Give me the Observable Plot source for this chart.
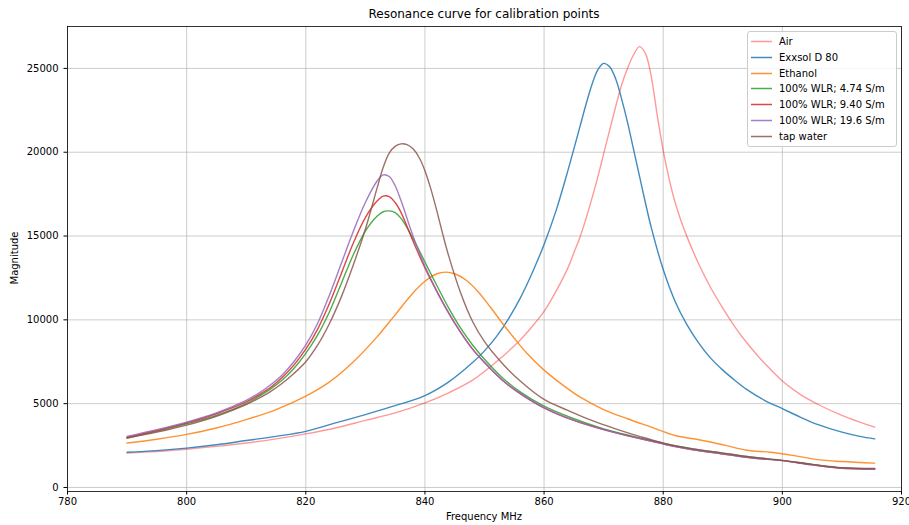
<!DOCTYPE html>
<html><head><meta charset="utf-8">
<script src="https://cdn.jsdelivr.net/npm/d3@7"></script>
<script src="https://cdn.jsdelivr.net/npm/@observablehq/plot@0.6"></script>
<style>
body{margin:0;background:#fff;font-family:"DejaVu Sans",sans-serif;}
#wrap{position:relative;width:909px;height:525px;overflow:hidden;}
.t{position:absolute;color:#000;white-space:nowrap;font-size:10px;line-height:1;}
#legend{position:absolute;left:747px;top:31px;width:148px;height:114px;border:1px solid #cccccc;border-radius:3px;background:rgba(255,255,255,0.8);}
.row{position:absolute;left:0;height:14px;width:146px;}
.row svg{position:absolute;left:3px;top:0;}
.lb{position:absolute;left:31px;top:1px;font-size:10px;white-space:nowrap;color:#000;line-height:1.1;}
</style></head><body><div id="wrap"></div>
<script>
// ---- data ----
const seriesNames = ["Air","Exxsol D 80","Ethanol","100% WLR; 4.74 S/m","100% WLR; 9.40 S/m","100% WLR; 19.6 S/m","tap water"];
const seriesColors = ["#ff0000","#1f77b4","#ff7f0e","#2ca02c","#d62728","#9467bd","#8c564b"];
const seriesOpacity = [0.4,0.85,0.85,0.85,0.85,0.85,0.85];
const xTicks = [780,800,820,840,860,880,900,920];
const yTicks = [0,5000,10000,15000,20000,25000];

const airFreq = [790,795,800,805,810,815,820,825,830,835,840,844,848,852,856,858,860,862,864,865,866,867,868,869,870,871,872,873,874,875,876,877,878,879,880,881,882,883,884,886,888,890,892,894,896,898,900,903,906,910,913,915.5];
const airMag  = [2050,2150,2280,2450,2650,2900,3200,3550,4000,4450,5050,5650,6400,7500,8800,9600,10500,11700,13100,14000,14900,16000,17200,18500,19900,21300,22700,24000,25000,25800,26300,25900,24500,22200,20100,18400,17000,15900,14950,13300,11900,10700,9600,8650,7800,7050,6350,5550,4950,4300,3900,3600];

const exxFreq = [790,795,800,805,810,815,820,825,830,835,840,844,848,850,852,854,856,858,860,862,864,866,867,868,869,870,871,872,873,874,875,876,877,878,880,882,884,886,888,890,892,894,897,900,903,906,910,913,915.5];
const exxMag  = [2100,2200,2350,2550,2800,3050,3350,3850,4350,4880,5480,6300,7450,8150,9000,10050,11300,12800,14500,16500,18900,21500,22800,24000,24900,25300,25100,24400,23200,21800,20200,18600,17000,15500,13000,11100,9700,8600,7700,7000,6400,5850,5200,4700,4200,3750,3300,3050,2900];

const ethFreq = [790,795,800,805,810,815,820,824,828,832,835,838,840,842,843.5,845,847,849,851,853,855,857,860,863,866,870,874,878,882,886,890,894,898,902,906,910,915.5];
const ethMag  = [2650,2880,3170,3550,4050,4650,5450,6300,7500,9000,10300,11600,12300,12750,12850,12750,12350,11650,10750,9800,8900,8050,7000,6150,5400,4650,4100,3600,3100,2850,2550,2220,2100,1900,1660,1550,1450];

const wlrFreq = [790,795,800,805,810,812,814,816,818,820,822,824,826,828,830,832,833,834,835,836,838,840,842,844,846,848,850,853,856,860,865,870,875,880,885,890,895,900,905,910,915.5];
const wlr474Mag = [2950,3350,3800,4300,5000,5400,5850,6400,7100,8000,9100,10500,12200,13900,15300,16200,16450,16500,16400,16050,14850,13450,12050,10700,9500,8500,7650,6550,5700,4850,4100,3500,3050,2650,2300,2050,1800,1620,1380,1170,1120];
const wlr940Mag = [3000,3400,3850,4400,5100,5500,5950,6550,7300,8250,9450,11000,12800,14600,16100,17100,17380,17350,17000,16400,14700,13100,11700,10400,9250,8250,7450,6400,5600,4750,4000,3450,3000,2600,2250,2000,1750,1600,1350,1150,1100];
const wlr196Mag = [3050,3450,3900,4450,5200,5600,6100,6700,7500,8500,9800,11500,13400,15300,17000,18300,18650,18550,18000,17100,15000,13200,11700,10400,9250,8250,7450,6400,5600,4750,4000,3450,3000,2600,2250,2000,1750,1600,1350,1150,1100];

const tapFreq = [790,795,800,805,810,812,814,816,818,820,822,824,826,828,830,832,833,834,835,836,837,838,839,840,841,842,843,844,846,848,850,853,856,860,864,868,872,876,880,885,890,895,900,905,910,915.5];
const tapMag  = [2950,3300,3720,4250,4950,5300,5700,6200,6800,7500,8500,9800,11400,13300,15400,17900,19100,19950,20350,20500,20450,20200,19700,18900,17800,16500,15100,13800,11600,9900,8700,7400,6350,5250,4600,4000,3500,3050,2650,2300,2050,1800,1620,1380,1180,1130];

const seriesData = [
  [airFreq, airMag], [exxFreq, exxMag], [ethFreq, ethMag],
  [wlrFreq, wlr474Mag], [wlrFreq, wlr940Mag], [wlrFreq, wlr196Mag], [tapFreq, tapMag]
];

// ---- chart ----
const lineMarks = seriesData.map(([fs, vs], i) =>
  Plot.line(fs.map((f, j) => ({f, v: vs[j]})), {
    x: "f", y: "v", stroke: seriesColors[i], strokeOpacity: seriesOpacity[i],
    strokeWidth: 1.4, curve: "catmull-rom"
  })
);

const chart = Plot.plot({
  width: 909, height: 525,
  marginLeft: 67, marginRight: 8, marginTop: 26, marginBottom: 34,
  style: {fontFamily: "DejaVu Sans", fontSize: "10px", color: "#000", background: "transparent"},
  x: {domain: [780, 920]},
  y: {domain: [-240, 27500]},
  marks: [
    Plot.gridX(xTicks, {stroke: "#b0b0b0", strokeOpacity: 0.65, strokeWidth: 1}),
    Plot.gridY(yTicks, {stroke: "#b0b0b0", strokeOpacity: 0.65, strokeWidth: 1}),
    ...lineMarks,
    Plot.frame({stroke: "#000", strokeWidth: 0.8}),
    Plot.axisX(xTicks, {tickSize: 3.5, tickPadding: 3, label: null, tickFormat: d => String(d), fill: "#000"}),
    Plot.axisY(yTicks, {tickSize: 3.5, tickPadding: 5.5, label: null, tickFormat: d => String(d), fill: "#000"})
  ]
});

const wrap = document.getElementById("wrap");
chart.style.position = "absolute";
chart.style.left = "0px";
chart.style.top = "0px";
wrap.appendChild(chart);

function addText(txt, css) {
  const d = document.createElement("div");
  d.className = "t";
  d.textContent = txt;
  Object.assign(d.style, css);
  wrap.appendChild(d);
  return d;
}
addText("Resonance curve for calibration points", {fontSize: "12px", top: "8px", left: "0px", width: "968px", textAlign: "center"});
addText("Frequency MHz", {top: "512px", left: "0px", width: "968px", textAlign: "center"});
addText("Magnitude", {top: "253px", left: "-17px", width: "64px", textAlign: "center", transform: "rotate(-90deg)"});

const legend = document.createElement("div");
legend.id = "legend";
const svgNS = "http://www.w3.org/2000/svg";
seriesNames.forEach((name, i) => {
  const r = document.createElement("div");
  r.className = "row";
  r.style.top = (3 + 15.8 * i) + "px";
  const s = document.createElementNS(svgNS, "svg");
  s.setAttribute("width", "22"); s.setAttribute("height", "14");
  const ln = document.createElementNS(svgNS, "line");
  ln.setAttribute("x1", "0"); ln.setAttribute("x2", "21");
  ln.setAttribute("y1", "6.5"); ln.setAttribute("y2", "6.5");
  ln.setAttribute("stroke", seriesColors[i]);
  ln.setAttribute("stroke-opacity", seriesOpacity[i]);
  ln.setAttribute("stroke-width", "1.5");
  s.appendChild(ln);
  const lb = document.createElement("div");
  lb.className = "lb";
  lb.textContent = name;
  r.appendChild(s); r.appendChild(lb);
  legend.appendChild(r);
});
wrap.appendChild(legend);
</script></body></html>
